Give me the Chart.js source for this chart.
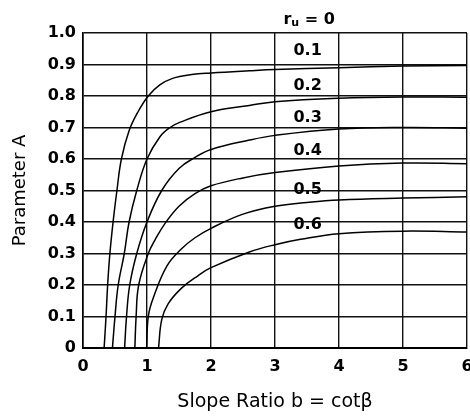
<!DOCTYPE html>
<html><head><meta charset="utf-8">
<script src="https://cdn.jsdelivr.net/npm/chart.js@4/dist/chart.umd.min.js"></script>
<style>html,body{margin:0;padding:0;background:#fff}canvas{display:block}</style>
</head><body>
<canvas id="c" width="470" height="417"></canvas>
<script>
// ---- data ----
const xTickValues = [0, 1, 2, 3, 4, 5, 6];
const yTickValues = [0, 0.1, 0.2, 0.3, 0.4, 0.5, 0.6, 0.7, 0.8, 0.9, 1.0];
const ruValues = ['0.1', '0.2', '0.3', '0.4', '0.5', '0.6'];
const ruTopLabel = '0';

const ru01_b = [0.33, 0.36, 0.385, 0.42, 0.47, 0.53, 0.6, 0.72, 0.86, 1.02, 1.2, 1.4, 1.7, 2.0, 2.6, 3.0, 4.0, 5.0, 6.0];
const ru01_A = [0, 0.1, 0.2, 0.3, 0.4, 0.5, 0.6, 0.69, 0.75, 0.8, 0.835, 0.856, 0.868, 0.873, 0.88, 0.884, 0.89, 0.895, 0.897];

const ru02_b = [0.46, 0.5, 0.55, 0.645, 0.72, 0.84, 1.0, 1.2, 1.36, 1.52, 2.0, 2.6, 3.0, 4.0, 5.0, 6.0];
const ru02_A = [0, 0.1, 0.2, 0.3, 0.4, 0.5, 0.6, 0.67, 0.7, 0.717, 0.75, 0.77, 0.782, 0.793, 0.797, 0.796];

const ru03_b = [0.65, 0.68, 0.73, 0.84, 1.0, 1.23, 1.5, 1.75, 2.0, 2.6, 3.0, 4.0, 5.0, 6.0];
const ru03_A = [0, 0.1, 0.2, 0.3, 0.4, 0.5, 0.57, 0.605, 0.63, 0.66, 0.675, 0.695, 0.7, 0.698];

const ru04_b = [0.81, 0.83, 0.87, 1.02, 1.13, 1.28, 1.5, 1.75, 2.0, 2.5, 3.0, 4.0, 5.0, 6.0];
const ru04_A = [0, 0.1, 0.2, 0.3, 0.345, 0.395, 0.45, 0.49, 0.515, 0.54, 0.557, 0.578, 0.587, 0.585];

const ru05_b = [0.995, 1.02, 1.1, 1.31, 1.54, 1.75, 2.0, 2.5, 3.0, 3.5, 4.0, 5.0, 6.0];
const ru05_A = [0, 0.1, 0.16, 0.26, 0.315, 0.35, 0.38, 0.425, 0.45, 0.462, 0.47, 0.476, 0.48];

const ru06_b = [1.18, 1.23, 1.33, 1.54, 1.8, 2.0, 2.6, 3.0, 3.4, 4.0, 5.0, 6.0];
const ru06_A = [0, 0.09, 0.14, 0.19, 0.23, 0.255, 0.305, 0.328, 0.345, 0.363, 0.371, 0.368];

const seriesB = [ru01_b, ru02_b, ru03_b, ru04_b, ru05_b, ru06_b];
const seriesA = [ru01_A, ru02_A, ru03_A, ru04_A, ru05_A, ru06_A];

// ---- chart ----
const datasets = seriesB.map((bs, i) => ({
  label: 'ru = ' + ruValues[i],
  data: bs.map((b, j) => ({x: b, y: seriesA[i][j]})),
  borderColor: '#000',
  borderWidth: 1.5,
  pointRadius: 0,
  fill: false,
  tension: 0.4
}));

const FONT = "'DejaVu Sans', sans-serif";

const labelPlugin = {
  id: 'curveLabels',
  afterDraw(chart) {
    const ctx = chart.ctx;
    const xs = chart.scales.x, ys = chart.scales.y;
    const lx = xs.getPixelForValue(3.51);
    const labelLevels = [0.943, 0.832, 0.732, 0.627, 0.502, 0.392];
    ctx.save();
    ctx.fillStyle = '#000';
    ctx.textAlign = 'center';
    ctx.textBaseline = 'middle';
    ctx.font = 'bold 16px ' + FONT;
    ruValues.forEach((t, i) => {
      ctx.fillText(t, lx, ys.getPixelForValue(labelLevels[i]));
    });
    // r_u = 0
    const cy = ys.getPixelForValue(1.043);
    const fBig = 'bold 16px ' + FONT, fSmall = 'bold 11px ' + FONT;
    ctx.font = fBig; const wr = ctx.measureText('r').width;
    ctx.font = fSmall; const wu = ctx.measureText('u').width;
    ctx.font = fBig; const wrest = ctx.measureText(' = ' + ruTopLabel).width;
    const total = wr + wu + wrest;
    let x0 = lx + 1.5 - total / 2;
    ctx.textAlign = 'left';
    ctx.font = fBig; ctx.fillText('r', x0, cy);
    ctx.font = fSmall; ctx.fillText('u', x0 + wr, cy + 4);
    ctx.font = fBig; ctx.fillText(' = ' + ruTopLabel, x0 + wr + wu, cy);
    ctx.restore();
  }
};

new Chart(document.getElementById('c'), {
  type: 'line',
  data: {datasets},
  plugins: [labelPlugin],
  options: {
    responsive: false,
    animation: false,
    devicePixelRatio: 1,
    layout: {padding: {top: 33, right: 3, bottom: 0, left: 0}},
    plugins: {legend: {display: false}, tooltip: {enabled: false}},
    scales: {
      x: {
        type: 'linear', min: 0, max: 6,
        afterBuildTicks: s => { s.ticks = xTickValues.map(v => ({value: v})); },
        afterFit: s => { s.height = 69; s.paddingLeft = 0; s.paddingRight = 0; },
        grid: {color: '#111', lineWidth: 1.4, drawTicks: false},
        border: {color: '#000', width: 2},
        ticks: {color: '#000', padding: 9, font: {family: FONT, size: 16, weight: 'bold'},
                callback: v => String(v)},
        title: {display: true, text: 'Slope Ratio b = cot\u03b2', color: '#000',
                font: {family: FONT, size: 19}, padding: {top: 0, bottom: 4}}
      },
      y: {
        type: 'linear', min: 0, max: 1,
        afterBuildTicks: s => { s.ticks = yTickValues.map(v => ({value: v})); },
        afterFit: s => { s.width = 83; s.paddingTop = 0; s.paddingBottom = 0; },
        grid: {color: '#111', lineWidth: 1.4, drawTicks: false},
        border: {color: '#000', width: 1.6},
        ticks: {color: '#000', padding: 7, font: {family: FONT, size: 16, weight: 'bold'},
                callback: v => (v === 0 ? '0' : v.toFixed(1))},
        title: {display: true, text: 'Parameter A', color: '#000',
                font: {family: FONT, size: 18}, padding: {top: 10, bottom: 0}}
      }
    }
  }
});
</script>
</body></html>
